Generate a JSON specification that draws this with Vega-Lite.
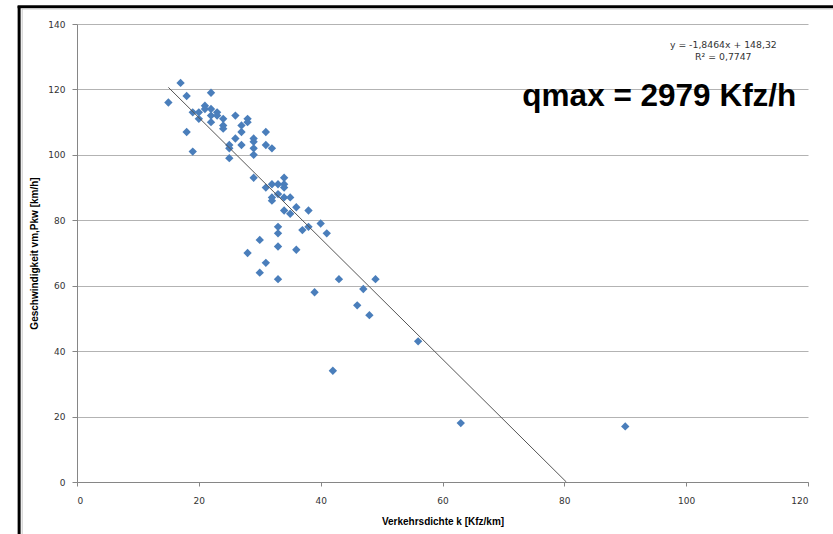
{
  "$schema": "https://vega.github.io/schema/vega-lite/v6.json",
  "width": 731,
  "height": 458,
  "autosize": {"type": "none"},
  "padding": {"left": 77, "top": 24, "right": 25, "bottom": 52},
  "background": "white",
  "config": {
    "view": {"stroke": null},
    "axis": {
      "labelFont": "DejaVu Sans",
      "labelFontSize": 9,
      "labelColor": "#333333",
      "titleFont": "Liberation Sans",
      "titleFontSize": 10,
      "titleFontWeight": "bold",
      "titleColor": "#000000",
      "domainColor": "#868686",
      "tickColor": "#868686",
      "gridColor": "#b3b3b3",
      "gridWidth": 1
    }
  },
  "datasets": {
    "points": [
      {"k": 15, "v": 116}, {"k": 17, "v": 122}, {"k": 18, "v": 118}, {"k": 18, "v": 107},
      {"k": 19, "v": 113}, {"k": 19, "v": 101}, {"k": 20, "v": 113}, {"k": 20, "v": 111},
      {"k": 21, "v": 115}, {"k": 21, "v": 114}, {"k": 22, "v": 119}, {"k": 22, "v": 114},
      {"k": 22, "v": 112}, {"k": 22, "v": 110}, {"k": 23, "v": 113}, {"k": 23, "v": 112},
      {"k": 24, "v": 111}, {"k": 24, "v": 109}, {"k": 24, "v": 108}, {"k": 25, "v": 103},
      {"k": 25, "v": 102}, {"k": 25, "v": 99}, {"k": 26, "v": 112}, {"k": 26, "v": 105},
      {"k": 27, "v": 109}, {"k": 27, "v": 107}, {"k": 27, "v": 103}, {"k": 28, "v": 111},
      {"k": 28, "v": 110}, {"k": 29, "v": 105}, {"k": 29, "v": 104}, {"k": 29, "v": 102},
      {"k": 29, "v": 100}, {"k": 31, "v": 107}, {"k": 31, "v": 103}, {"k": 32, "v": 102},
      {"k": 29, "v": 93}, {"k": 31, "v": 90}, {"k": 32, "v": 91}, {"k": 33, "v": 91},
      {"k": 34, "v": 93}, {"k": 34, "v": 91}, {"k": 34, "v": 90}, {"k": 33, "v": 88},
      {"k": 32, "v": 87}, {"k": 32, "v": 86}, {"k": 34, "v": 87}, {"k": 35, "v": 87},
      {"k": 36, "v": 84}, {"k": 34, "v": 83}, {"k": 35, "v": 82}, {"k": 38, "v": 83},
      {"k": 40, "v": 79}, {"k": 38, "v": 78}, {"k": 37, "v": 77}, {"k": 41, "v": 76},
      {"k": 33, "v": 78}, {"k": 33, "v": 76}, {"k": 30, "v": 74}, {"k": 33, "v": 72},
      {"k": 36, "v": 71}, {"k": 28, "v": 70}, {"k": 31, "v": 67}, {"k": 30, "v": 64},
      {"k": 33, "v": 62}, {"k": 43, "v": 62}, {"k": 49, "v": 62}, {"k": 47, "v": 59},
      {"k": 39, "v": 58}, {"k": 46, "v": 54}, {"k": 48, "v": 51}, {"k": 56, "v": 43},
      {"k": 42, "v": 34}, {"k": 63, "v": 18}, {"k": 90, "v": 17}
    ],
    "trend": [
      {"k": 15, "v": 120.624},
      {"k": 80.33, "v": 0}
    ]
  },
  "layer": [
    {
      "data": {"name": "points"},
      "mark": {"type": "point", "shape": "diamond", "filled": true, "size": 70, "color": "#4a7ebb", "opacity": 1},
      "encoding": {
        "x": {
          "field": "k", "type": "quantitative",
          "scale": {"domain": [0, 120], "nice": false, "zero": false},
          "axis": {
            "title": "Verkehrsdichte k [Kfz/km]",
            "values": [0, 20, 40, 60, 80, 100, 120],
            "grid": false,
            "tickSize": 4,
            "labelPadding": 10,
            "titlePadding": 11
          }
        },
        "y": {
          "field": "v", "type": "quantitative",
          "scale": {"domain": [0, 140], "nice": false},
          "axis": {
            "title": "Geschwindigkeit vm,Pkw [km/h]",
            "values": [0, 20, 40, 60, 80, 100, 120, 140],
            "grid": true,
            "tickSize": 5,
            "labelPadding": 7,
            "titlePadding": 8
          }
        }
      }
    },
    {
      "data": {"name": "trend"},
      "mark": {"type": "line", "color": "#555555", "strokeWidth": 1},
      "encoding": {
        "x": {"field": "k", "type": "quantitative"},
        "y": {"field": "v", "type": "quantitative"}
      }
    },
    {
      "data": {"values": [{}]},
      "mark": {"type": "text", "text": "y = -1,8464x + 148,32", "font": "DejaVu Sans", "fontSize": 9.3, "color": "#333333", "align": "center", "baseline": "middle"},
      "encoding": {"x": {"datum": 106.1}, "y": {"datum": 133.6}}
    },
    {
      "data": {"values": [{}]},
      "mark": {"type": "text", "text": "R² = 0,7747", "font": "DejaVu Sans", "fontSize": 9.3, "color": "#333333", "align": "center", "baseline": "middle"},
      "encoding": {"x": {"datum": 106.1}, "y": {"datum": 130.0}}
    },
    {
      "data": {"values": [{}]},
      "mark": {"type": "text", "text": "qmax = 2979 Kfz/h", "font": "Liberation Sans", "fontSize": 31.5, "fontWeight": "bold", "color": "#000000", "align": "center", "baseline": "middle"},
      "encoding": {"x": {"datum": 95.6}, "y": {"datum": 117.6}}
    },
    {
      "data": {"values": [{}]},
      "mark": {"type": "rule", "color": "#000000", "strokeWidth": 3, "clip": false},
      "encoding": {"x": {"datum": -9.5}, "y": {"datum": 145.5}, "y2": {"datum": -16.5}}
    },
    {
      "data": {"values": [{}]},
      "mark": {"type": "rule", "color": "#000000", "strokeWidth": 3, "clip": false},
      "encoding": {"x": {"datum": -9.75}, "x2": {"datum": 125}, "y": {"datum": 145.3}}
    },
    {
      "data": {"values": [{}]},
      "mark": {"type": "rule", "color": "#c8c8c8", "strokeWidth": 1, "clip": false},
      "encoding": {"x": {"datum": -9.0}, "y": {"datum": 144.6}, "y2": {"datum": -16.5}}
    },
    {
      "data": {"values": [{}]},
      "mark": {"type": "rule", "color": "#c8c8c8", "strokeWidth": 1, "clip": false},
      "encoding": {"x": {"datum": -9.0}, "x2": {"datum": 125}, "y": {"datum": 144.6}}
    }
  ]
}
